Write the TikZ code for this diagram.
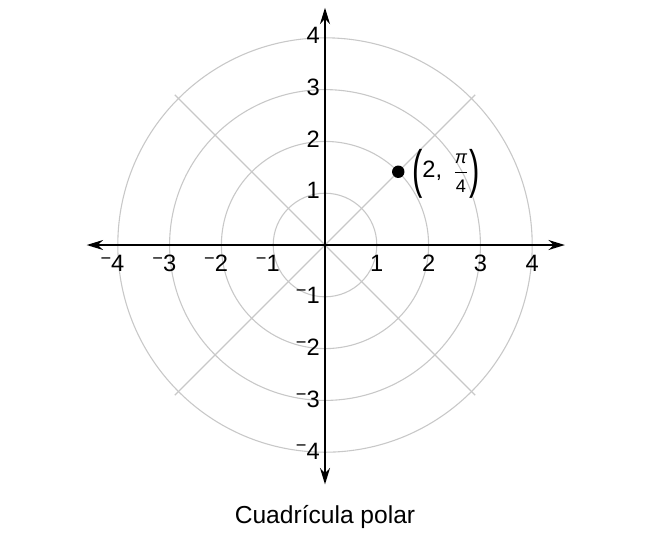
\documentclass[tikz,border=0pt]{standalone}
\usepackage{fontspec}
\usepackage{graphicx}
\setmainfont{Liberation Sans}
\usetikzlibrary{arrows.meta,calc}
\definecolor{gridgray}{RGB}{200,200,200}
\newcommand{\negmark}{\llap{\raisebox{0.6ex}{\fontsize{10}{12}\selectfont −}}}
\newcommand{\bigpar}[1]{\raisebox{-5.5pt}{\scalebox{1}[1.7]{\fontsize{17}{19}\selectfont #1}}}
\begin{document}
\begin{tikzpicture}[
  gridline/.style={draw=gridgray, line width=0.6pt},
  axisline/.style={draw=black, line width=0.8pt, {Stealth[length=9pt,width=5.5pt]}-{Stealth[length=9pt,width=5.5pt]}},
  ticklab/.style={font=\fontsize{13}{15}\selectfont, inner sep=0pt},
  titlelab/.style={font=\fontsize{13.5}{16}\selectfont, inner sep=0pt}
]
\useasboundingbox (-6.274,-5.579) rectangle (6.274,4.730);
\coordinate (O) at (0,0);
% circles
\foreach \r in {1,2,3,4} \draw[gridline] (O) circle (\r);
% diagonals
\coordinate (d1) at (135:4.1);
\coordinate (d2) at (-45:4.1);
\coordinate (d3) at (225:4.1);
\coordinate (d4) at (45:4.1);
\draw[gridline] (d1) -- (d2);
\draw[gridline] (d3) -- (d4);
% axes
\coordinate (xl) at (-4.6,0);
\coordinate (xr) at (4.63,0);
\coordinate (yt) at (0,4.58);
\coordinate (yb) at (0,-4.62);
\draw[axisline] (xl) -- (xr);
\draw[axisline] (yb) -- (yt);
% x labels
\foreach \x in {1,2,3,4} {
  \node[ticklab] (xp\x) at (\x,-0.36) {\x};
  \node[ticklab] (xn\x) at (-\x,-0.36) {\negmark\x};
}
% y labels
\foreach \y in {1,2,3,4} {
  \node[ticklab] (yp\y) at (-0.23,\y+0.05) {\y};
  \node[ticklab] (yn\y) at (-0.23,-\y+0.02) {\negmark\y};
}
% point
\coordinate (P) at (45:2);
\fill (P) circle (0.12);
\node[ticklab, anchor=west] (pl) at ($(P)+(0.26,-0.05)$) {\bigpar{(}2,\, $\displaystyle\frac{\mbox{\fontsize{10}{12}\selectfont\itshape π}}{\mbox{\fontsize{10}{12}\selectfont 4}}$\bigpar{)}};
% title
\node[titlelab] (title) at (0,-5.25) {Cuadrícula polar};
\end{tikzpicture}
\end{document}
